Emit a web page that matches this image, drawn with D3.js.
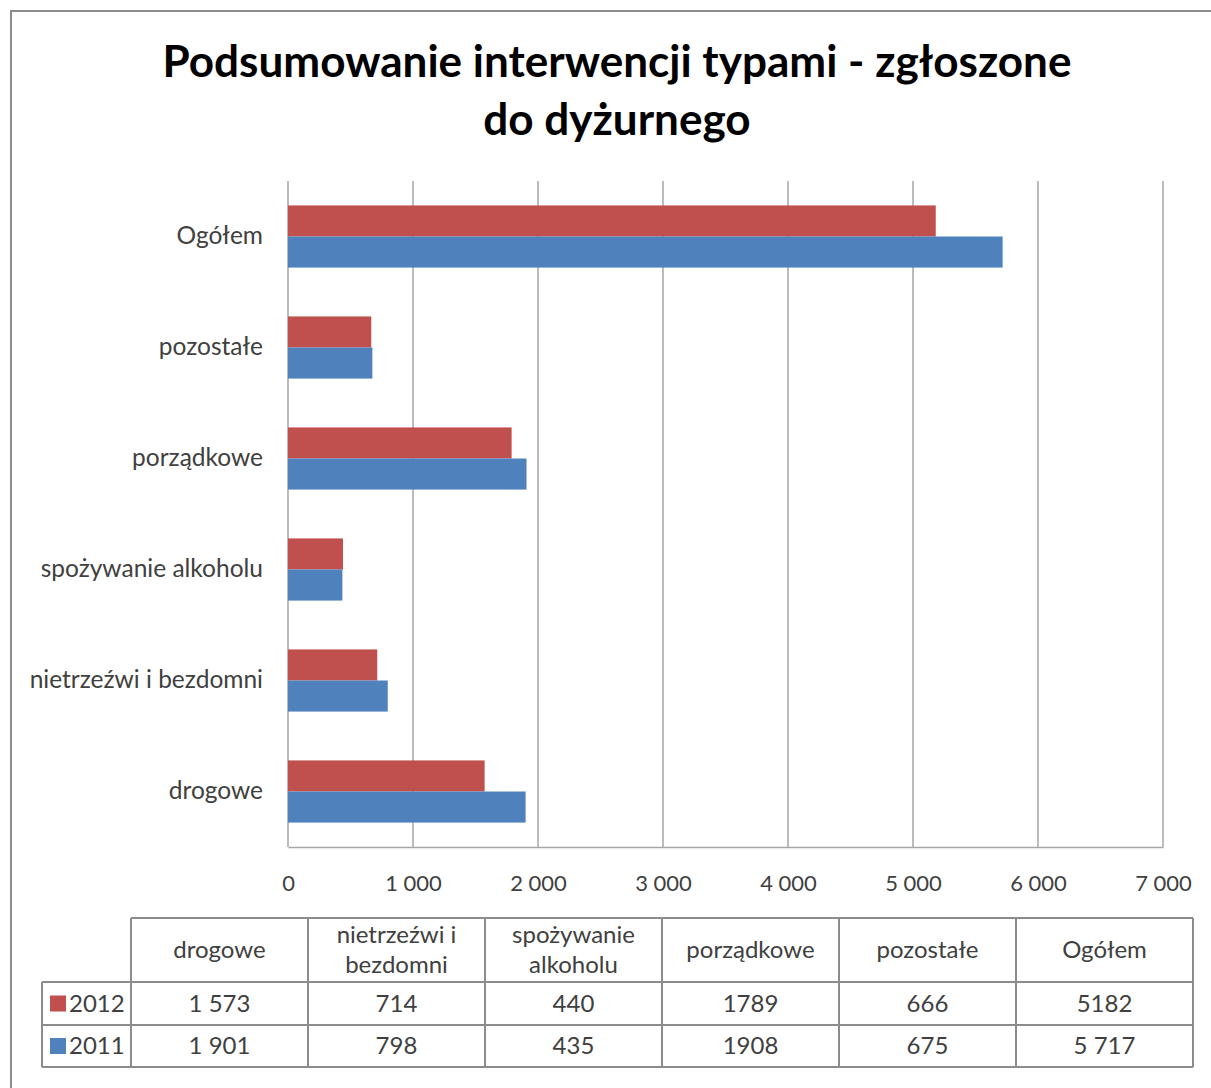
<!DOCTYPE html>
<html>
<head>
<meta charset="utf-8">
<script src="https://cdn.jsdelivr.net/npm/d3@7/dist/d3.min.js"></script>
<style>
  html, body { margin: 0; padding: 0; background: #fff; }
  svg { display: block; font-family: Lato, "Open Sans", sans-serif; }
</style>
</head>
<body>
<svg id="chart" width="1211" height="1088"></svg>
<script>
// ---- data ----
const categories = ["drogowe", "nietrzeźwi i bezdomni", "spożywanie alkoholu", "porządkowe", "pozostałe", "Ogółem"];
const headerLines = [["drogowe"], ["nietrzeźwi i", "bezdomni"], ["spożywanie", "alkoholu"], ["porządkowe"], ["pozostałe"], ["Ogółem"]];
const seriesNames = ["2012", "2011"];
const values2012 = [1573, 714, 440, 1789, 666, 5182];
const values2011 = [1901, 798, 435, 1908, 675, 5717];
const labels2012 = ["1 573", "714", "440", "1789", "666", "5182"];
const labels2011 = ["1 901", "798", "435", "1908", "675", "5 717"];
const tickValues = [0, 1000, 2000, 3000, 4000, 5000, 6000, 7000];
const tickLabels = ["0", "1 000", "2 000", "3 000", "4 000", "5 000", "6 000", "7 000"];
const seriesColors = ["#C0504D", "#4F81BD"];
const titleLines = ["Podsumowanie interwencji typami - zgłoszone", "do dyżurnego"];

const svg = d3.select("#chart");

// outer frame
svg.append("path")
  .attr("d", "M11,1088 L11,11 L1211,11")
  .attr("fill", "none").attr("stroke", "#8c8c8c").attr("stroke-width", 2);

// title
const title = svg.append("g");
titleLines.forEach((t, i) => {
  title.append("text")
    .attr("x", 617).attr("y", 77 + i * 58)
    .attr("text-anchor", "middle")
    .attr("font-weight", "bold").attr("font-size", 40)
    .attr("fill", "#000")
    .text(t);
});
// fit first line to reference width
const first = title.select("text").node();
const w = first.getComputedTextLength();
const fs = 40 * 909 / w;
title.selectAll("text").attr("font-size", fs);

// scales
const x = d3.scaleLinear().domain([0, 7000]).range([288, 1163]);
const y = d3.scaleBand().domain(categories.slice().reverse()).range([181, 847]).paddingInner(0.44).paddingOuter(0.22);
const ySub = d3.scaleBand().domain(seriesNames).range([0, y.bandwidth()]);

// grid
svg.append("g").selectAll("line").data(tickValues).join("line")
  .attr("x1", d => x(d)).attr("x2", d => x(d))
  .attr("y1", 181).attr("y2", 847)
  .attr("stroke", "#a6a6a6").attr("stroke-width", 1.5);

// bottom axis
const xAxis = d3.axisBottom(x).tickValues(tickValues).tickSize(0).tickPadding(0)
  .tickFormat((d, i) => tickLabels[i]);
const gx = svg.append("g").attr("transform", "translate(0,847)").call(xAxis);
gx.select(".domain").attr("stroke", "#a6a6a6").attr("stroke-width", 1.5);
gx.selectAll("text").attr("font-size", 22).attr("fill", "#404040")
  .attr("font-family", "Lato, sans-serif").attr("dy", null).attr("y", 44);

// left axis labels
const yAxis = d3.axisLeft(y).tickSize(0).tickPadding(0);
const gy = svg.append("g").attr("transform", "translate(263,0)").call(yAxis);
gy.select(".domain").remove();
gy.selectAll("text").attr("font-size", 24.5).attr("fill", "#404040")
  .attr("font-family", "Lato, sans-serif");

// bars
const seriesData = [values2012, values2011];
seriesNames.forEach((s, si) => {
  svg.append("g").selectAll("rect").data(categories).join("rect")
    .attr("x", x(0))
    .attr("y", c => y(c) + ySub(s))
    .attr("width", (c, i) => x(seriesData[si][i]) - x(0))
    .attr("height", ySub.bandwidth())
    .attr("fill", seriesColors[si]);
});

// data table
const colX = d3.scaleBand().domain(categories).range([131, 1193]);
const rowTop = [918, 982, 1025, 1067];
const legendLeft = 42;
const tbl = svg.append("g");
const lineColor = "#8c8c8c";
function hline(x1, x2, yy) {
  tbl.append("line").attr("x1", x1).attr("x2", x2).attr("y1", yy).attr("y2", yy)
    .attr("stroke", lineColor).attr("stroke-width", 2);
}
function vline(xx, y1, y2) {
  tbl.append("line").attr("x1", xx).attr("x2", xx).attr("y1", y1).attr("y2", y2)
    .attr("stroke", lineColor).attr("stroke-width", 2);
}
hline(131, 1193, rowTop[0]);
hline(legendLeft, 1193, rowTop[1]);
hline(legendLeft, 1193, rowTop[2]);
hline(legendLeft, 1193, rowTop[3]);
vline(legendLeft, rowTop[1], rowTop[3]);
categories.forEach(c => vline(colX(c), rowTop[0], rowTop[3]));
vline(1193, rowTop[0], rowTop[3]);

// header texts
categories.forEach((c, i) => {
  const lines = headerLines[i];
  const cx = colX(c) + colX.bandwidth() / 2;
  const cy = (rowTop[0] + rowTop[1]) / 2;
  lines.forEach((t, li) => {
    tbl.append("text")
      .attr("x", cx)
      .attr("y", cy + (li - (lines.length - 1) / 2) * 30 + 8)
      .attr("text-anchor", "middle").attr("font-size", 24).attr("fill", "#404040")
      .text(t);
  });
});

// value rows
const rowLabels = [labels2012, labels2011];
seriesNames.forEach((s, si) => {
  const cy = (rowTop[si + 1] + rowTop[si + 2]) / 2;
  rowLabels[si].forEach((t, i) => {
    tbl.append("text")
      .attr("x", colX(categories[i]) + colX.bandwidth() / 2)
      .attr("y", cy + 8)
      .attr("text-anchor", "middle").attr("font-size", 24).attr("fill", "#404040")
      .text(t);
  });
  tbl.append("rect")
    .attr("x", 50).attr("y", cy - 8).attr("width", 16).attr("height", 16)
    .attr("fill", seriesColors[si]);
  tbl.append("text")
    .attr("x", 69).attr("y", cy + 8)
    .attr("font-size", 24).attr("fill", "#404040")
    .text(s);
});
</script>
</body>
</html>
